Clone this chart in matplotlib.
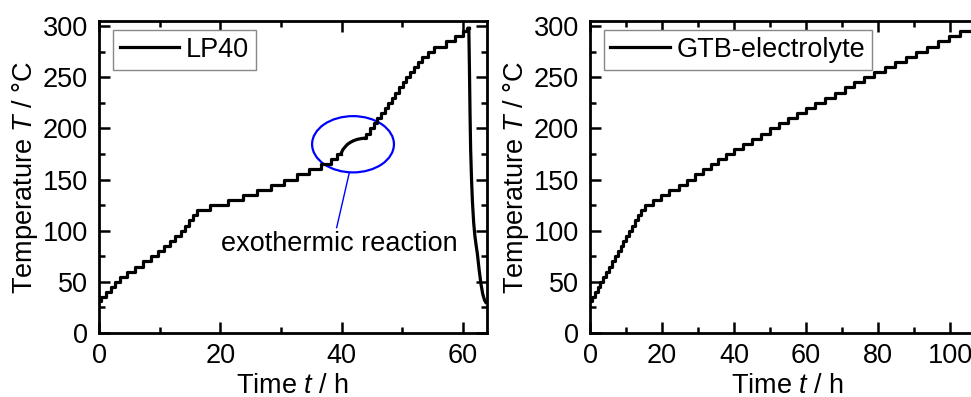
import matplotlib
matplotlib.use("Agg")
import matplotlib.pyplot as plt
from matplotlib.patches import Ellipse
from matplotlib.ticker import MultipleLocator

plt.rcParams['font.family'] = ['Liberation Sans', 'DejaVu Sans']
plt.rcParams['mathtext.fontset'] = 'custom'
plt.rcParams['mathtext.rm'] = 'Liberation Sans'
plt.rcParams['mathtext.it'] = 'Liberation Sans:italic'

# LP40: staircase up to the exotherm (step start time, temperature level)
lp40_step1_t = [0.0, 0.3, 1.2, 2.0, 2.7, 3.5, 4.6, 6.0, 7.3, 8.6, 9.7, 10.7, 11.7, 12.6,
                13.5, 14.2, 14.9, 15.5, 16.1, 18.3, 21.3, 23.8, 26.0, 28.3, 30.5, 32.6,
                34.6, 36.6, 38.3, 39.2, 39.9]
lp40_step1_T = [31, 35, 40, 45, 50, 55, 60, 65, 70, 75, 80, 85, 90, 95,
                100, 105, 110, 115, 120, 125, 130, 135, 140, 145, 150, 155,
                160, 165, 170, 175, 175]
# exothermic reaction (smooth part)
lp40_exo_t = [39.9, 40.2, 40.6, 41.0, 41.5, 42.0, 42.6, 43.2, 43.8]
lp40_exo_T = [175, 179, 182, 184.5, 186.5, 188, 189.3, 190, 190.5]
# staircase after the exotherm
lp40_step2_t = [43.8, 44.1, 44.7, 45.3, 45.9, 46.5, 47.1, 47.7, 48.3, 48.9, 49.5, 50.1,
                50.7, 51.3, 51.9, 52.6, 53.3, 54.2, 55.3, 57.3, 58.8, 60.0, 60.7, 61.0]
lp40_step2_T = [190.5, 195, 200, 205, 210, 215, 220, 225, 230, 235, 240, 245,
                250, 255, 260, 265, 270, 275, 280, 285, 290, 295, 298, 298]
# cool-down
lp40_cool_t = [61.0, 61.1, 61.2, 61.3, 61.45, 61.6, 61.8, 62.0, 62.2, 62.4, 62.7, 63.0,
               63.3, 63.6, 63.8]
lp40_cool_T = [298, 260, 215, 180, 150, 128, 108, 95, 86, 78, 62, 48, 38, 32, 30]

# GTB-electrolyte staircase
gtb_t = [0.0, 0.5, 1.3, 2.1, 2.9, 3.7, 4.5, 5.3, 6.1, 6.9, 7.7, 8.5, 9.3, 10.1, 10.9,
         11.7, 12.5, 13.3, 14.1, 15.2, 17.5, 19.8, 22.0, 24.6, 27.0, 29.3, 31.5, 33.6,
         35.6, 37.8, 40.0, 42.6, 45.0, 47.5, 50.0, 52.6, 55.0, 57.5, 60.0, 62.6, 65.4,
         68.0, 70.7, 73.4, 76.2, 79.0, 81.9, 84.8, 87.7, 90.6, 93.6, 96.6, 99.6, 102.8,
         106.5]
gtb_T = [31, 35, 40, 45, 50, 55, 60, 65, 70, 75, 80, 85, 90, 95, 100,
         105, 110, 115, 120, 125, 130, 135, 140, 145, 150, 155, 160, 165,
         170, 175, 180, 185, 190, 195, 200, 205, 210, 215, 220, 225, 230,
         235, 240, 245, 250, 255, 260, 265, 270, 275, 280, 285, 290, 295,
         295]

FS = 19.5
LW = 2.3

fig = plt.figure(figsize=(9.71, 3.97), dpi=100)
ax1 = fig.add_axes([99 / 971, 1 - 333 / 397, 388 / 971, 312 / 397])
ax2 = fig.add_axes([590 / 971, 1 - 333 / 397, 396 / 971, 312 / 397])


def style(ax, xmax, xmajor):
    ax.set_xlim(0, xmax)
    ax.set_ylim(0, 305)
    ax.xaxis.set_major_locator(MultipleLocator(xmajor))
    ax.xaxis.set_minor_locator(MultipleLocator(xmajor / 2))
    ax.yaxis.set_major_locator(MultipleLocator(50))
    ax.yaxis.set_minor_locator(MultipleLocator(25))
    ax.tick_params(which='both', direction='in', top=True, right=True, width=1.8)
    ax.tick_params(which='major', length=8)
    ax.tick_params(which='minor', length=4.5)
    ax.tick_params(axis='x', which='major', labelsize=FS, pad=7)
    ax.tick_params(axis='y', which='major', labelsize=FS, pad=8)
    for s in ax.spines.values():
        s.set_linewidth(2.0)
    ax.set_xlabel(r'Time $\mathit{t}$ / h', fontsize=FS, labelpad=3)
    ax.set_ylabel(r'Temperature $\mathit{T}$ / °C', fontsize=FS, labelpad=2)


# left panel: LP40
ax1.plot(lp40_step1_t, lp40_step1_T, color='black', lw=LW, drawstyle='steps-post', label='LP40')
ax1.plot(lp40_exo_t, lp40_exo_T, color='black', lw=LW)
ax1.plot(lp40_step2_t, lp40_step2_T, color='black', lw=LW, drawstyle='steps-post')
ax1.plot(lp40_cool_t, lp40_cool_T, color='black', lw=LW)
style(ax1, 64, 20)

ax1.add_patch(Ellipse((41.9, 184.5), 13.5, 55, fill=False, edgecolor='#0000ff', lw=1.6))
ax1.plot([41.3, 39.2], [157, 103], color='#0000ff', lw=1.0)
ax1.text(39.7, 80, 'exothermic reaction', fontsize=FS, ha='center', va='baseline')

leg_kw = dict(loc='upper left', bbox_to_anchor=(0.036, 0.971), borderaxespad=0,
              fontsize=FS, fancybox=False, edgecolor='#888888', framealpha=1,
              handlelength=2.2, handletextpad=0.25, borderpad=0.25)
leg1 = ax1.legend(**leg_kw)
leg1.get_frame().set_linewidth(1.0)

# right panel: GTB-electrolyte
ax2.plot(gtb_t, gtb_T, color='black', lw=LW, drawstyle='steps-post', label='GTB-electrolyte')
style(ax2, 110, 20)
ax2.set_xticks([0, 20, 40, 60, 80, 100])
leg_kw['bbox_to_anchor'] = (13.5 / 396, 0.971)
leg2 = ax2.legend(**leg_kw)
leg2.get_frame().set_linewidth(1.0)

fig.savefig('out.png', dpi=100)
